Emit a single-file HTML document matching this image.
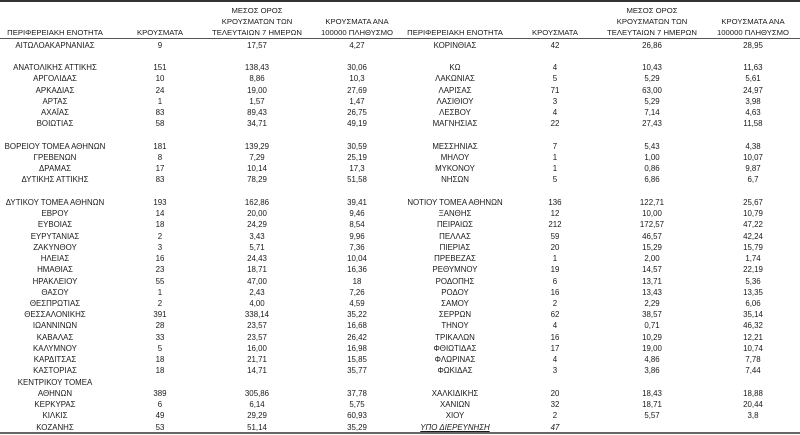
<!DOCTYPE html>
<html><head><meta charset="utf-8"><style>
html,body{margin:0;padding:0;background:#fff;}
body{width:800px;height:435px;position:relative;overflow:hidden;font-family:"Liberation Sans",sans-serif;color:#1a1a1a;}
.col{position:absolute;top:39.6px;text-align:center;font-size:7.9px;line-height:11.24px;white-space:pre;}
.h{position:absolute;text-align:center;font-size:7.7px;line-height:11px;white-space:pre;color:#1a1a1a;}
.top{position:absolute;left:0;top:0;width:800px;height:2px;background:#333;}
.hl{position:absolute;left:0;top:38px;width:800px;height:1px;background:#555;}
.bl{position:absolute;left:0;top:432px;width:800px;height:2px;background:#666;}
i{font-style:italic;}
</style></head><body>
<div class="top"></div><div class="hl"></div><div class="bl"></div>

<div class="h" style="left:0;width:110px;top:27px">ΠΕΡΙΦΕΡΕΙΑΚΗ ΕΝΟΤΗΤΑ</div>
<div class="h" style="left:110px;width:100px;top:27px">ΚΡΟΥΣΜΑΤΑ</div>
<div class="h" style="left:207px;width:100px;top:5px">ΜΕΣΟΣ ΟΡΟΣ
ΚΡΟΥΣΜΑΤΩΝ ΤΩΝ
ΤΕΛΕΥΤΑΙΩΝ 7 ΗΜΕΡΩΝ</div>
<div class="h" style="left:305px;width:104px;top:16px">ΚΡΟΥΣΜΑΤΑ ΑΝΑ
100000 ΠΛΗΘΥΣΜΟ</div>
<div class="h" style="left:400px;width:110px;top:27px">ΠΕΡΙΦΕΡΕΙΑΚΗ ΕΝΟΤΗΤΑ</div>
<div class="h" style="left:505px;width:100px;top:27px">ΚΡΟΥΣΜΑΤΑ</div>
<div class="h" style="left:600px;width:104px;top:5px">ΜΕΣΟΣ ΟΡΟΣ
ΚΡΟΥΣΜΑΤΩΝ ΤΩΝ
ΤΕΛΕΥΤΑΙΩΝ 7 ΗΜΕΡΩΝ</div>
<div class="h" style="left:703px;width:100px;top:16px">ΚΡΟΥΣΜΑΤΑ ΑΝΑ
100000 ΠΛΗΘΥΣΜΟ</div>

<div class="col" style="left:0;width:110px">ΑΙΤΩΛΟΑΚΑΡΝΑΝΙΑΣ

ΑΝΑΤΟΛΙΚΗΣ ΑΤΤΙΚΗΣ
ΑΡΓΟΛΙΔΑΣ
ΑΡΚΑΔΙΑΣ
ΑΡΤΑΣ
ΑΧΑΪΑΣ
ΒΟΙΩΤΙΑΣ

ΒΟΡΕΙΟΥ ΤΟΜΕΑ ΑΘΗΝΩΝ
ΓΡΕΒΕΝΩΝ
ΔΡΑΜΑΣ
ΔΥΤΙΚΗΣ ΑΤΤΙΚΗΣ

ΔΥΤΙΚΟΥ ΤΟΜΕΑ ΑΘΗΝΩΝ
ΕΒΡΟΥ
ΕΥΒΟΙΑΣ
ΕΥΡΥΤΑΝΙΑΣ
ΖΑΚΥΝΘΟΥ
ΗΛΕΙΑΣ
ΗΜΑΘΙΑΣ
ΗΡΑΚΛΕΙΟΥ
ΘΑΣΟΥ
ΘΕΣΠΡΩΤΙΑΣ
ΘΕΣΣΑΛΟΝΙΚΗΣ
ΙΩΑΝΝΙΝΩΝ
ΚΑΒΑΛΑΣ
ΚΑΛΥΜΝΟΥ
ΚΑΡΔΙΤΣΑΣ
ΚΑΣΤΟΡΙΑΣ
ΚΕΝΤΡΙΚΟΥ ΤΟΜΕΑ
ΑΘΗΝΩΝ
ΚΕΡΚΥΡΑΣ
ΚΙΛΚΙΣ
ΚΟΖΑΝΗΣ</div>
<div class="col" style="left:110px;width:100px">9

151
10
24
1
83
58

181
8
17
83

193
14
18
2
3
16
23
55
1
2
391
28
33
5
18
18

389
6
49
53</div>
<div class="col" style="left:210px;width:94px">17,57

138,43
8,86
19,00
1,57
89,43
34,71

139,29
7,29
10,14
78,29

162,86
20,00
24,29
3,43
5,71
24,43
18,71
47,00
2,43
4,00
338,14
23,57
23,57
16,00
21,71
14,71

305,86
6,14
29,29
51,14</div>
<div class="col" style="left:304px;width:106px">4,27

30,06
10,3
27,69
1,47
26,75
49,19

30,59
25,19
17,3
51,58

39,41
9,46
8,54
9,96
7,36
10,04
16,36
18
7,26
4,59
35,22
16,68
26,42
16,98
15,85
35,77

37,78
5,75
60,93
35,29</div>

<div class="col" style="left:400px;width:110px">ΚΟΡΙΝΘΙΑΣ

ΚΩ
ΛΑΚΩΝΙΑΣ
ΛΑΡΙΣΑΣ
ΛΑΣΙΘΙΟΥ
ΛΕΣΒΟΥ
ΜΑΓΝΗΣΙΑΣ

ΜΕΣΣΗΝΙΑΣ
ΜΗΛΟΥ
ΜΥΚΟΝΟΥ
ΝΗΣΩΝ

ΝΟΤΙΟΥ ΤΟΜΕΑ ΑΘΗΝΩΝ
ΞΑΝΘΗΣ
ΠΕΙΡΑΙΩΣ
ΠΕΛΛΑΣ
ΠΙΕΡΙΑΣ
ΠΡΕΒΕΖΑΣ
ΡΕΘΥΜΝΟΥ
ΡΟΔΟΠΗΣ
ΡΟΔΟΥ
ΣΑΜΟΥ
ΣΕΡΡΩΝ
ΤΗΝΟΥ
ΤΡΙΚΑΛΩΝ
ΦΘΙΩΤΙΔΑΣ
ΦΛΩΡΙΝΑΣ
ΦΩΚΙΔΑΣ

ΧΑΛΚΙΔΙΚΗΣ
ΧΑΝΙΩΝ
ΧΙΟΥ
<i><u>ΥΠΟ ΔΙΕΡΕΥΝΗΣΗ</u></i></div>
<div class="col" style="left:505px;width:100px">42

4
5
71
3
4
22

7
1
1
5

136
12
212
59
20
1
19
6
16
2
62
4
16
17
4
3

20
32
2
<i>47</i></div>
<div class="col" style="left:606px;width:92px">26,86

10,43
5,29
63,00
5,29
7,14
27,43

5,43
1,00
0,86
6,86

122,71
10,00
172,57
46,57
15,29
2,00
14,57
13,71
13,43
2,29
38,57
0,71
10,29
19,00
4,86
3,86

18,43
18,71
5,57
</div>
<div class="col" style="left:706px;width:94px">28,95

11,63
5,61
24,97
3,98
4,63
11,58

4,38
10,07
9,87
6,7

25,67
10,79
47,22
42,24
15,79
1,74
22,19
5,36
13,35
6,06
35,14
46,32
12,21
10,74
7,78
7,44

18,88
20,44
3,8
</div>
</body></html>
